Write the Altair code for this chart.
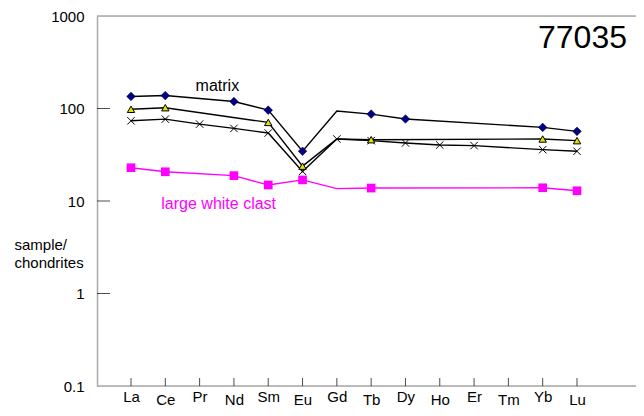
import altair as alt
import pandas as pd

elements = ["La", "Ce", "Pr", "Nd", "Sm", "Eu", "Gd", "Tb", "Dy", "Ho", "Er", "Tm", "Yb", "Lu"]

matrix = [135, 138, None, 119, 96, 34.5, 94, 87, 77, None, None, None, 62.5, 56.6]
triangle = [98, 102, None, None, 70.7, 23.8, 46.8, 46, None, None, None, None, 46.8, 44.9]
crosses = [73.6, 76.7, 67.8, 60.9, 54.3, 20.9, 46.8, 44.9, 42.4, 40.3, 39.7, None, 35.9, 34.5]
clast = [22.9, 20.7, None, 18.8, 14.9, 16.9, 13.6, 13.8, None, None, None, None, 13.9, 12.9]

no_marker = {"matrix": ["Gd"], "triangle": ["Gd"], "crosses": [], "clast": ["Gd"]}

series = {"matrix": matrix, "triangle": triangle, "crosses": crosses, "clast": clast}

y_ticks = [1, 10, 100]
low_labels = ["Ce", "Nd", "Eu", "Tb", "Ho", "Tm", "Lu"]

rows = []
for name, vals in series.items():
    for el, v in zip(elements, vals):
        if v is not None:
            rows.append({"series": name, "el": el, "v": v, "marker": el not in no_marker[name]})
df = pd.DataFrame(rows)

W, H = 539, 370
FONT = "Liberation Sans"

xscale = alt.Scale(type="point", domain=elements, range=[34, 480], padding=0)
yscale = alt.Scale(type="log", domain=[0.1, 1000])

low_arr = "[" + ",".join(f"'{e}'" for e in low_labels) + "]"

x_axis = alt.Axis(
    title=None, domain=False, ticks=False, grid=False,
    labelFont=FONT, labelFontSize=15, labelColor="black",
    labelAngle=0,
    labelPadding=alt.ExprRef(expr=f"indexof({low_arr}, datum.value) >= 0 ? 6 : 3"),
)
y_axis = alt.Axis(
    title=["sample/", "chondrites"], titleAngle=0, titleAlign="left", titleBaseline="top",
    titleX=-83, titleY=221, titleFont=FONT, titleFontSize=15, titleFontWeight="normal",
    titleLineHeight=18,
    values=[0.1, 1, 10, 100, 1000], format="~g",
    domainColor="#aaaaaa", domainWidth=1.5, ticks=False, grid=False,
    labelFont=FONT, labelFontSize=15, labelColor="black", labelPadding=13,
)

base = alt.Chart(df)

def line(name, color):
    return base.transform_filter(alt.datum.series == name).mark_line(
        color=color, strokeWidth=1.4
    ).encode(
        x=alt.X("el:N", scale=xscale, axis=x_axis, sort=elements),
        y=alt.Y("v:Q", scale=yscale, axis=y_axis),
    )

def pts(name, **kw):
    return base.transform_filter(
        (alt.datum.series == name) & alt.datum.marker
    ).mark_point(filled=True, opacity=1, **kw).encode(
        x=alt.X("el:N", scale=xscale, sort=elements),
        y=alt.Y("v:Q", scale=yscale),
    )

xpath = "M-1,-1L1,1M-1,1L1,-1"

layers = [
    line("clast", "#ff00ff"),
    line("crosses", "black"),
    line("triangle", "black"),
    line("matrix", "black"),
    pts("clast", shape="square", size=75, color="#ff00ff"),
    base.transform_filter((alt.datum.series == "crosses") & alt.datum.marker).mark_point(
        shape=xpath, size=55, filled=False, color="black", strokeWidth=1, opacity=1
    ).encode(x=alt.X("el:N", scale=xscale, sort=elements), y=alt.Y("v:Q", scale=yscale)),
    pts("triangle", shape="triangle-up", size=55, fill="#e0e000", stroke="black", strokeWidth=1),
    pts("matrix", shape="diamond", size=75, fill="#000080", stroke="#000050", strokeWidth=0.5),
]

# frame lines (top and bottom)
frame = alt.Chart(pd.DataFrame({"k": [0]})).mark_rule(color="#aaaaaa", strokeWidth=1.5).encode(
    x=alt.value(0), x2=alt.value(W), y=alt.value(0)
)
frame_b = alt.Chart(pd.DataFrame({"k": [0]})).mark_rule(color="#aaaaaa", strokeWidth=1.5).encode(
    x=alt.value(0), x2=alt.value(W), y=alt.value(H)
)

xt = alt.Chart(pd.DataFrame({"el": elements})).mark_tick(
    color="black", orient="vertical", size=8, thickness=1
).encode(x=alt.X("el:N", scale=xscale, sort=elements), y=alt.value(H - 4))

yt = alt.Chart(pd.DataFrame({"v": y_ticks})).mark_tick(
    color="black", orient="horizontal", size=13, thickness=1
).encode(y=alt.Y("v:Q", scale=yscale), x=alt.value(6.5))

ann = pd.DataFrame({
    "el": ["Pr", "Ce"], "v": [153, 8.1],
    "t": ["matrix", "large white clast"], "c": ["black", "#ff00ff"],
})
ann_text = alt.Chart(ann).mark_text(
    font=FONT, fontSize=16, align="left", baseline="alphabetic", dx=-4
).encode(
    x=alt.X("el:N", scale=xscale, sort=elements),
    y=alt.Y("v:Q", scale=yscale),
    text="t:N",
    color=alt.Color("c:N", scale=None),
)

label = alt.Chart(pd.DataFrame({"t": ["77035"]})).mark_text(
    font=FONT, fontSize=32, align="right", baseline="alphabetic"
).encode(x=alt.value(530), y=alt.value(32), text="t:N")

chart = alt.layer(frame, frame_b, *layers, xt, yt, ann_text, label).properties(
    width=W, height=H,
    autosize=alt.AutoSizeParams(type="none"),
    padding={"left": 89, "top": 8, "right": 0, "bottom": 22},
).configure_view(stroke=None).configure(background="white")

chart.save("out.html", embed_options={"renderer": "svg", "actions": False})
